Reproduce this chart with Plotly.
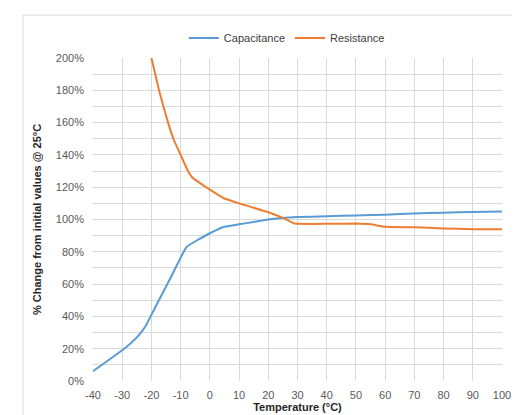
import plotly.graph_objects as go

# Data
cap_temp = [-40, -35, -30, -27, -24, -22, -20, -17, -13, -8, -4, 0, 5, 10, 15, 20, 30, 40, 50, 60, 70, 80, 90, 100]
cap_vals = [6, 12.5, 19, 23.5, 29, 34, 41, 51.5, 65.5, 83, 87.5, 91.5, 95.5, 97, 98.5, 100, 101.5, 102, 102.5, 103, 103.7, 104.2, 104.7, 105]

res_temp = [-20, -17.4, -15.9, -14.3, -12.5, -10, -7.5, -6, 0, 5, 10, 20, 25, 29, 40, 50, 55, 60, 70, 80, 90, 100]
res_vals = [200, 180, 170, 160, 150, 140, 130, 126, 118.5, 113, 110, 104.5, 101, 97.5, 97.3, 97.5, 97, 95.5, 95.2, 94.5, 94, 94]

x_ticks = [-40, -30, -20, -10, 0, 10, 20, 30, 40, 50, 60, 70, 80, 90, 100]
x_labels = ["-40", "-30", "-20", "-10", "0", "10", "20", "30", "40", "50", "60", "70", "80", "90", "100"]
y_ticks = [0, 20, 40, 60, 80, 100, 120, 140, 160, 180, 200]
y_labels = ["0%", "20%", "40%", "60%", "80%", "100%", "120%", "140%", "160%", "180%", "200%"]

BLUE = "#5B9BD5"
ORANGE = "#ED7D31"
GRID = "#D9D9D9"
FONT = "Liberation Sans, Arial, sans-serif"

fig = go.Figure()
fig.add_trace(go.Scatter(x=cap_temp, y=cap_vals, mode="lines", name="Capacitance",
                         line=dict(color=BLUE, width=2, shape="spline", smoothing=0.3)))
fig.add_trace(go.Scatter(x=res_temp, y=res_vals, mode="lines", name="Resistance",
                         line=dict(color=ORANGE, width=2, shape="spline", smoothing=0.3)))

fig.update_layout(
    width=520, height=415,
    margin=dict(l=85, r=26, t=50, b=42),
    paper_bgcolor="white", plot_bgcolor="white",
    font=dict(family=FONT, size=11, color="#404040"),
    showlegend=True,
    legend=dict(orientation="h", x=0.474, xanchor="center", y=1.062, yanchor="middle",
                font=dict(size=11, color="#404040"), bgcolor="rgba(0,0,0,0)",
                itemwidth=30, tracegroupgap=0),
    xaxis=dict(range=[-40, 100], tickvals=x_ticks, ticktext=x_labels, showgrid=True,
               gridcolor=GRID, gridwidth=1, zeroline=False, showline=False, ticks="",
               ticklabelstandoff=6, tickfont=dict(size=11, color="#595959"),
               title=dict(text="<b>Temperature (°C)</b>", font=dict(size=11, color="#262626"), standoff=1)),
    yaxis=dict(range=[0, 200], tickvals=y_ticks, ticktext=y_labels, showgrid=True, gridcolor=GRID,
               gridwidth=1, zeroline=False, showline=False, ticks="", ticklabelstandoff=8,
               minor=dict(dtick=10, showgrid=True, gridcolor=GRID, gridwidth=1),
               tickfont=dict(size=11, color="#595959"),
               title=dict(text="<b>% Change from initial values @ 25°C</b>",
                          font=dict(size=11, color="#262626"), standoff=12)),
    shapes=[dict(type="rect", xref="paper", yref="paper", x0=-0.171, x1=1.051, y0=-0.2, y1=1.133,
                 line=dict(color="#D9D9D9", width=1), fillcolor="rgba(0,0,0,0)", layer="below")],
)

fig.write_html("out.html")
